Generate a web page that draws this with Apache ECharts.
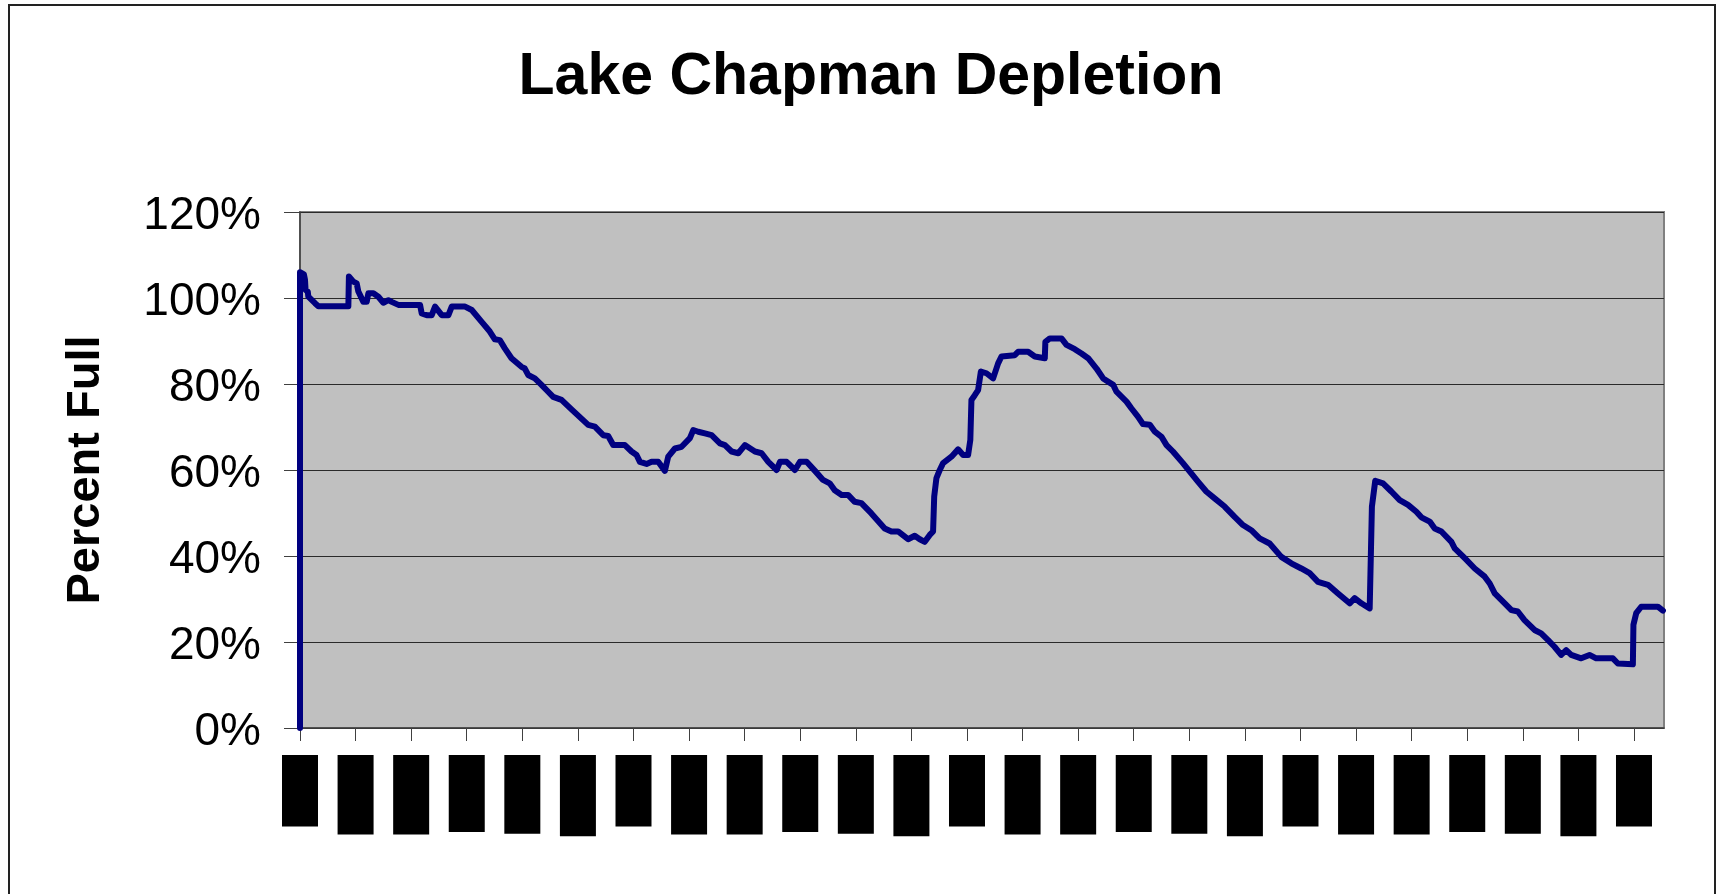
<!DOCTYPE html>
<html>
<head>
<meta charset="utf-8">
<title>Lake Chapman Depletion</title>
<script src="https://cdn.jsdelivr.net/npm/echarts@6/dist/echarts.min.js"></script>
<style>
  html, body { margin: 0; padding: 0; background: #ffffff; }
  #chart { width: 1722px; height: 894px; }
</style>
</head>
<body>
<div id="chart"></div>
<script>
// ---- Data (x = months since first tick, y = percent full) ----
const monthIndex = [
  0, 0, 0.14, 0.18, 0.20, 0.28, 0.30, 0.54, 0.66, 1.74, 1.76, 1.92, 2.04, 2.10, 2.28, 2.40, 2.46, 2.64, 2.82, 3.00,
  3.18, 3.30, 3.54, 4.32, 4.38, 4.56, 4.74, 4.86, 5.10, 5.34, 5.46, 5.94, 6.18, 6.53, 6.83, 7.01, 7.19, 7.37, 7.61, 7.97,
  8.09, 8.21, 8.45, 8.69, 8.93, 9.11, 9.41, 9.77, 10.37, 10.61, 10.91, 11.09, 11.27, 11.69, 11.93, 12.11, 12.23, 12.47, 12.65, 12.89,
  13.13, 13.25, 13.49, 13.73, 14.03, 14.15, 14.33, 14.57, 14.81, 15.11, 15.29, 15.53, 15.77, 16.01, 16.37, 16.61, 16.85, 17.15, 17.27, 17.51,
  17.81, 17.99, 18.23, 18.53, 18.82, 19.06, 19.24, 19.49, 19.72, 19.96, 20.20, 20.56, 21.04, 21.28, 21.52, 21.88, 22.12, 22.30, 22.48, 22.66,
  22.78, 22.82, 22.90, 23.02, 23.14, 23.44, 23.68, 23.86, 24.04, 24.12, 24.16, 24.28, 24.40, 24.50, 24.70, 24.94, 25.12, 25.24, 25.72, 25.84,
  26.20, 26.44, 26.80, 26.82, 26.98, 27.40, 27.58, 27.88, 28.12, 28.36, 28.66, 28.90, 29.26, 29.38, 29.74, 29.92, 30.15, 30.33, 30.58, 30.76,
  31.00, 31.18, 31.41, 31.77, 32.07, 32.31, 32.61, 32.91, 33.27, 33.63, 33.93, 34.23, 34.53, 34.89, 35.31, 35.67, 36.03, 36.33, 36.63, 36.99,
  37.35, 37.77, 37.95, 38.19, 38.49, 38.57, 38.69, 38.97, 39.27, 39.57, 39.87, 40.17, 40.35, 40.65, 40.83, 41.07, 41.43, 41.55, 41.91, 42.27,
  42.63, 42.81, 42.99, 43.35, 43.59, 43.82, 44.06, 44.42, 44.66, 44.90, 45.14, 45.38, 45.56, 45.74, 46.10, 46.40, 46.64, 47.24, 47.42, 47.96,
  47.98, 48.08, 48.26, 48.86, 49.04
];
const percentFull = [
  0, 106, 105.5, 104.2, 101.9, 101.5, 100.3, 98.8, 98.1, 98.1, 105.0, 103.8, 103.4, 101.5, 99.1, 99.1, 101.1, 101.1, 100.3, 98.9,
  99.5, 99.1, 98.4, 98.4, 96.4, 96.0, 96.0, 98.0, 96.0, 96.0, 98.0, 98.0, 97.2, 94.5, 92.2, 90.4, 90.2, 88.3, 86.0, 84.0,
  83.6, 82.1, 81.3, 79.8, 78.2, 77.0, 76.3, 74.1, 70.5, 70.1, 68.1, 67.9, 65.8, 65.8, 64.3, 63.5, 61.9, 61.4, 61.9, 61.9,
  59.8, 63.1, 65.0, 65.4, 67.4, 69.3, 68.9, 68.5, 68.1, 66.2, 65.8, 64.3, 63.9, 65.8, 64.3, 63.9, 61.9, 60.0, 61.9, 61.9,
  60.0, 61.9, 61.9, 59.8, 57.7, 56.9, 55.3, 54.2, 54.2, 52.6, 52.3, 49.9, 46.4, 45.7, 45.7, 43.9, 44.7, 43.9, 43.3, 44.9,
  45.7, 53.8, 58.1, 60.0, 61.6, 63.1, 64.8, 63.5, 63.5, 67.0, 76.3, 77.4, 78.6, 82.9, 82.5, 81.3, 84.8, 86.4, 86.7, 87.5,
  87.5, 86.4, 86.0, 89.8, 90.6, 90.6, 89.1, 88.1, 87.1, 86.0, 83.6, 81.3, 79.8, 78.2, 75.9, 74.3, 72.4, 70.7, 70.5, 68.9,
  67.7, 65.8, 64.3, 61.6, 59.2, 57.3, 55.0, 53.4, 51.5, 49.1, 47.2, 46.0, 44.1, 42.9, 39.8, 38.3, 37.1, 36.0, 34.0, 33.3,
  31.3, 29.0, 30.2, 29.0, 27.8, 51.5, 57.5, 56.9, 55.0, 53.0, 51.9, 50.3, 49.0, 48.0, 46.4, 45.7, 43.3, 41.8, 39.5, 37.1,
  35.2, 33.6, 31.3, 29.0, 27.4, 27.1, 25.1, 22.8, 22.0, 20.5, 18.9, 17.0, 18.1, 17.0, 16.2, 17.0, 16.2, 16.2, 15.0, 14.8,
  24.0, 26.7, 28.2, 28.2, 27.3
];

// ---- Axis ticks / labels ----
const tickMonths = [0, 2, 4, 6, 8, 10, 12, 14, 16, 18, 20, 22, 24, 26, 28, 30, 32, 34, 36, 38, 40, 42, 44, 46, 48];
const tickLabels = [
  'Jul-03', 'Sep-03', 'Nov-03', 'Jan-04', 'Mar-04', 'May-04',
  'Jul-04', 'Sep-04', 'Nov-04', 'Jan-05', 'Mar-05', 'May-05',
  'Jul-05', 'Sep-05', 'Nov-05', 'Jan-06', 'Mar-06', 'May-06',
  'Jul-06', 'Sep-06', 'Nov-06', 'Jan-07', 'Mar-07', 'May-07', 'Jul-07'
];
const yTicks = [0, 20, 40, 60, 80, 100, 120];
const xMax = 49.08;

const FONT = "'Liberation Sans', Arial, Helvetica, sans-serif";

const seriesData = monthIndex.map((m, i) => [m, percentFull[i]]);

const chart = echarts.init(document.getElementById('chart'), null, { renderer: 'canvas' });

chart.setOption({
  animation: false,
  backgroundColor: '#ffffff',
  title: {
    text: 'Lake Chapman Depletion',
    left: 866,
    top: 43,
    textAlign: 'center',
    textStyle: { fontFamily: FONT, fontSize: 59, fontWeight: 'bold', color: '#000000' }
  },
  graphic: [{
    type: 'rect',
    silent: true,
    z: -10,
    shape: { x: 9, y: 5, width: 1706, height: 920 },
    style: { fill: 'none', stroke: '#222222', lineWidth: 2 }
  }],
  grid: {
    left: 300, top: 212, right: 58, bottom: 166,
    show: true,
    backgroundColor: '#C0C0C0',
    borderColor: '#808080',
    borderWidth: 2
  },
  xAxis: {
    type: 'value',
    min: 0,
    max: xMax,
    interval: 2,
    splitLine: { show: false },
    axisLine: { show: true, onZero: false, lineStyle: { color: '#404040', width: 1.5 } },
    axisTick: {
      show: true, inside: false, length: 13,
      customValues: tickMonths,
      lineStyle: { color: '#404040', width: 1 }
    },
    axisLabel: {
      show: true,
      customValues: tickMonths,
      rotate: 90,
      margin: 27,
      formatter: function (v) {
        const i = tickMonths.indexOf(Math.round(v));
        return i >= 0 ? tickLabels[i] : '';
      },
      fontFamily: FONT,
      fontSize: 16,
      lineHeight: 16,
      color: '#000000',
      backgroundColor: '#000000',
      padding: [10, 14, 10, 14]
    }
  },
  yAxis: {
    type: 'value',
    min: 0,
    max: 120,
    interval: 20,
    name: 'Percent Full',
    nameLocation: 'middle',
    nameRotate: 90,
    nameGap: 190,
    nameTextStyle: { fontFamily: FONT, fontSize: 47, fontWeight: 'bold', color: '#000000' },
    axisLine: { show: true, lineStyle: { color: '#404040', width: 1.5 } },
    axisTick: { show: true, inside: false, length: 16, lineStyle: { color: '#404040', width: 1 } },
    axisLabel: {
      margin: 39,
      formatter: '{value}%',
      fontFamily: FONT,
      fontSize: 46,
      color: '#000000',
      verticalAlign: 'top',
      lineHeight: 9
    },
    splitLine: { show: true, lineStyle: { color: '#2a2a2a', width: 1 } }
  },
  series: [{
    type: 'line',
    data: seriesData,
    showSymbol: false,
    symbol: 'none',
    lineStyle: { color: '#000080', width: 6, cap: 'round', join: 'round' },
    itemStyle: { color: '#000080' },
    z: 3
  }]
});
</script>
</body>
</html>
